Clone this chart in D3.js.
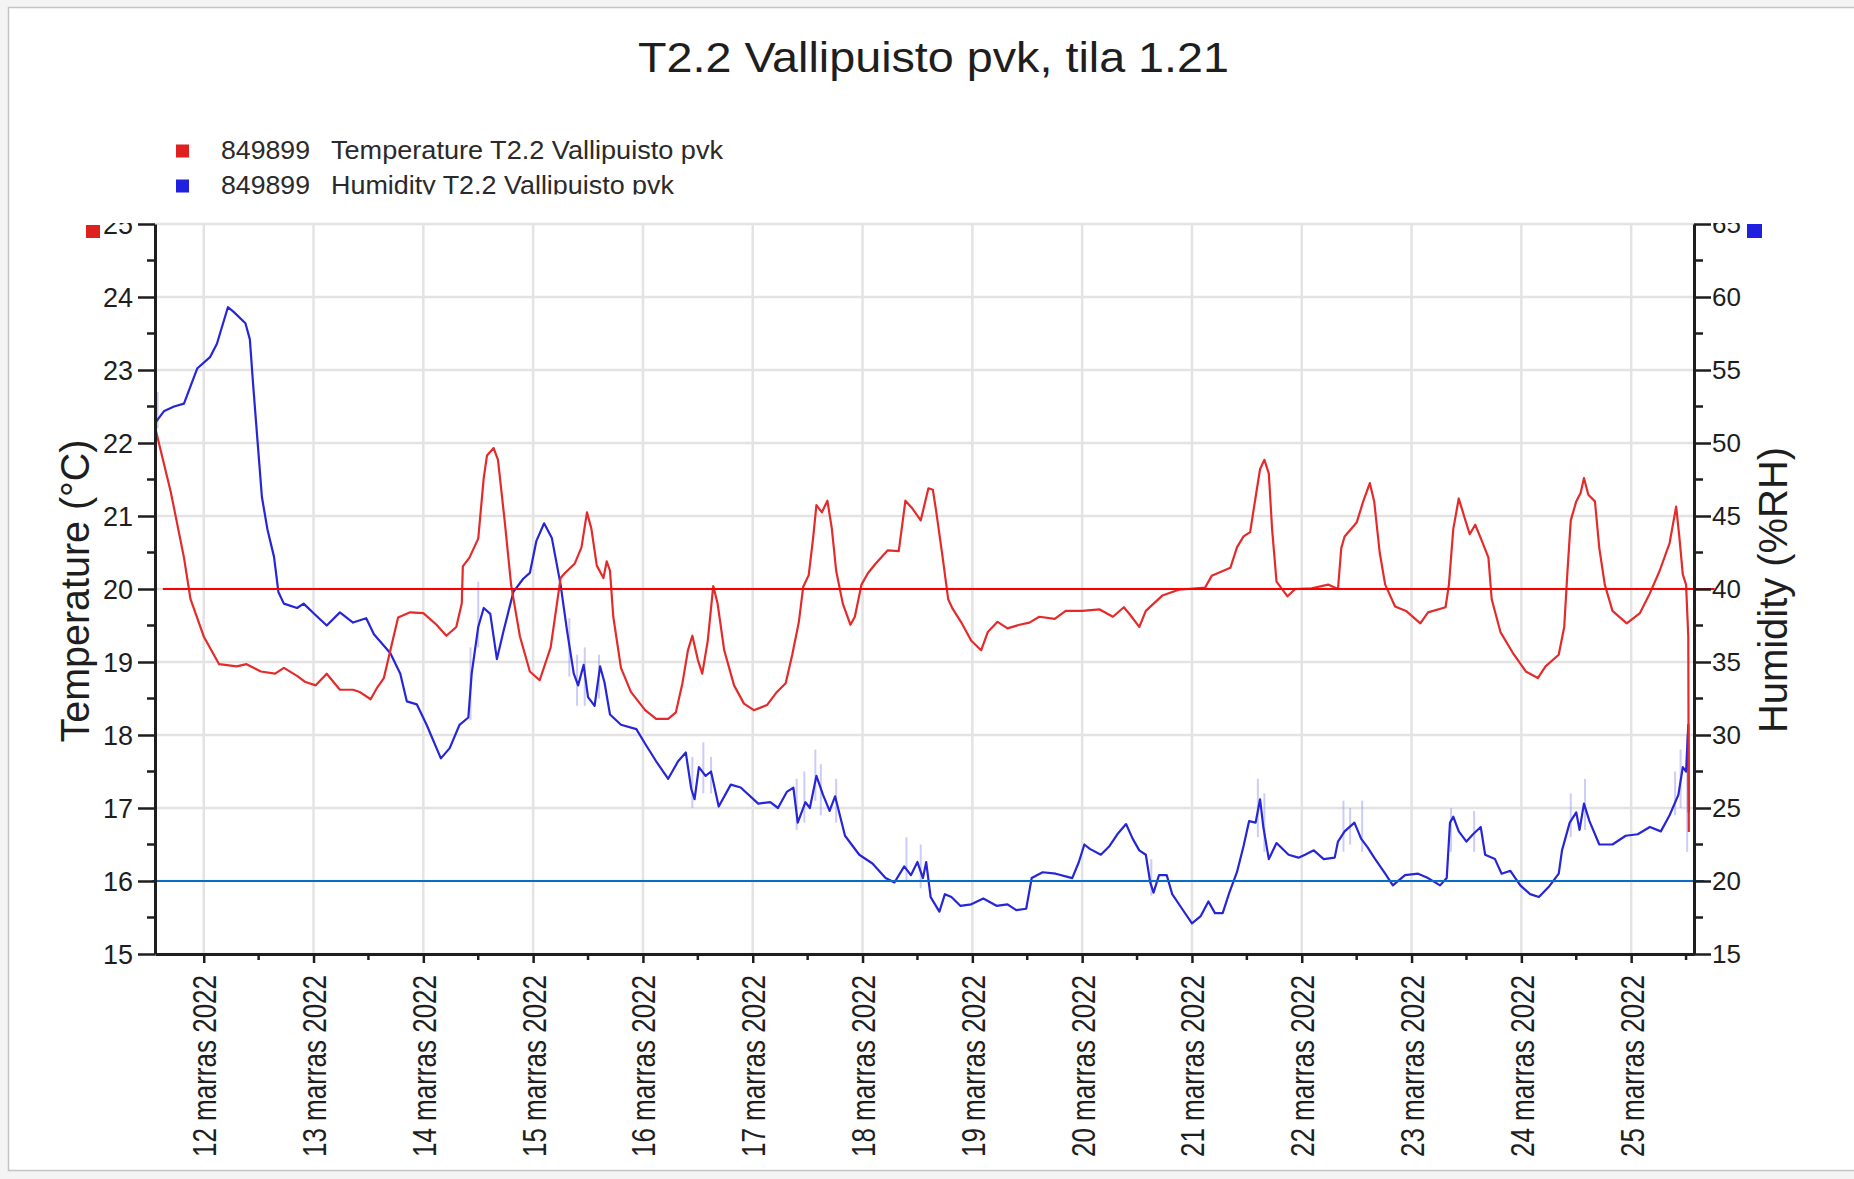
<!DOCTYPE html>
<html>
<head>
<meta charset="utf-8">
<script src="https://cdn.jsdelivr.net/npm/d3@7"></script>
<style>
  html, body { margin: 0; padding: 0; background: #f4f4f4; }
  svg { display: block; font-family: "Liberation Sans", Arial, sans-serif; }
</style>
</head>
<body>
<svg id="chart" width="1854" height="1179"></svg>
<script>
// ---- chart texts ----
const chartTitle = "T2.2 Vallipuisto pvk, tila 1.21";
const sensorId = "849899";
const seriesNames = ["Temperature T2.2 Vallipuisto pvk", "Humidity T2.2 Vallipuisto pvk"];
const axisTitles = ["Temperature (°C)", "Humidity (%RH)"];

// ---- axis ticks ----
const dayTicks = [12, 13, 14, 15, 16, 17, 18, 19, 20, 21, 22, 23, 24, 25];
const dayTickLabels = ["12 marras 2022", "13 marras 2022", "14 marras 2022", "15 marras 2022",
  "16 marras 2022", "17 marras 2022", "18 marras 2022", "19 marras 2022", "20 marras 2022",
  "21 marras 2022", "22 marras 2022", "23 marras 2022", "24 marras 2022", "25 marras 2022"];
const tempTicks = [15, 16, 17, 18, 19, 20, 21, 22, 23, 24, 25];
const humTicks = [15, 20, 25, 30, 35, 40, 45, 50, 55, 60, 65];
const timeRange = [11.556, 25.572];   // visible span, day of month (March 2022)

// ---- target levels ----
const tempTarget = { value: 20, from: 11.628, to: 25.76 };
const humTarget = { value: 20, from: 11.525, to: 25.665 };

// ---- temperature series (day of month, °C) ----
const tempDay = [11.56, 11.70, 11.82, 11.88, 12.00, 12.14, 12.30, 12.39, 12.52, 12.65, 12.73, 12.85,
  12.92, 13.02, 13.12, 13.24, 13.36, 13.42, 13.52, 13.58, 13.64, 13.70, 13.77, 13.88, 14.00, 14.12,
  14.21, 14.30, 14.35, 14.36, 14.42, 14.50, 14.55, 14.58, 14.64, 14.68, 14.74, 14.80, 14.88, 14.97,
  15.06, 15.16, 15.25, 15.29, 15.38, 15.44, 15.49, 15.53, 15.58, 15.64, 15.67, 15.70, 15.73, 15.80,
  15.89, 16.02, 16.12, 16.23, 16.30, 16.36, 16.41, 16.45, 16.50, 16.54, 16.59, 16.64, 16.68, 16.74,
  16.83, 16.92, 17.01, 17.13, 17.22, 17.30, 17.36, 17.42, 17.46, 17.51, 17.55, 17.58, 17.63, 17.68,
  17.72, 17.76, 17.82, 17.89, 17.93, 17.99, 18.05, 18.12, 18.23, 18.33, 18.39, 18.45, 18.53, 18.60,
  18.64, 18.67, 18.73, 18.78, 18.82, 18.90, 18.99, 19.08, 19.14, 19.23, 19.32, 19.43, 19.52, 19.61,
  19.75, 19.85, 20.00, 20.16, 20.28, 20.38, 20.44, 20.52, 20.58, 20.73, 20.88, 21.12, 21.18, 21.35,
  21.41, 21.47, 21.53, 21.58, 21.62, 21.66, 21.70, 21.73, 21.77, 21.87, 21.94, 22.09, 22.24, 22.33,
  22.36, 22.39, 22.50, 22.56, 22.62, 22.66, 22.71, 22.76, 22.85, 22.95, 23.08, 23.15, 23.31, 23.34,
  23.38, 23.43, 23.49, 23.53, 23.58, 23.64, 23.70, 23.73, 23.81, 23.92, 24.04, 24.15, 24.22, 24.34,
  24.39, 24.42, 24.45, 24.50, 24.54, 24.57, 24.61, 24.67, 24.71, 24.76, 24.83, 24.96, 25.08, 25.17,
  25.26, 25.35, 25.41, 25.44, 25.47, 25.50, 25.52, 25.525];
const tempValue = [22.20, 21.33, 20.43, 19.86, 19.35, 18.97, 18.94, 18.97, 18.87, 18.84, 18.92, 18.81,
  18.73, 18.68, 18.84, 18.62, 18.62, 18.59, 18.49, 18.65, 18.78, 19.16, 19.61, 19.68, 19.67, 19.51,
  19.36, 19.48, 19.80, 20.31, 20.43, 20.69, 21.52, 21.83, 21.93, 21.77, 20.94, 20.05, 19.35, 18.87,
  18.75, 19.20, 20.15, 20.22, 20.35, 20.57, 21.05, 20.83, 20.32, 20.15, 20.38, 20.25, 19.62, 18.92,
  18.59, 18.34, 18.22, 18.22, 18.31, 18.71, 19.16, 19.36, 19.03, 18.84, 19.29, 20.04, 19.80, 19.16,
  18.68, 18.43, 18.34, 18.41, 18.59, 18.71, 19.10, 19.55, 20.03, 20.19, 20.70, 21.15, 21.05, 21.21,
  20.83, 20.25, 19.80, 19.51, 19.62, 20.06, 20.22, 20.35, 20.53, 20.52, 21.21, 21.11, 20.94, 21.38,
  21.36, 21.07, 20.43, 19.86, 19.73, 19.54, 19.29, 19.16, 19.41, 19.55, 19.46, 19.51, 19.54, 19.62,
  19.59, 19.70, 19.70, 19.72, 19.62, 19.75, 19.64, 19.48, 19.70, 19.91, 19.99, 20.02, 20.18, 20.29,
  20.57, 20.72, 20.78, 21.26, 21.64, 21.77, 21.58, 20.82, 20.10, 19.90, 20.00, 20.01, 20.06, 20.00,
  20.56, 20.72, 20.91, 21.20, 21.45, 21.20, 20.50, 20.06, 19.76, 19.70, 19.53, 19.68, 19.75, 20.06,
  20.82, 21.24, 20.94, 20.75, 20.88, 20.66, 20.43, 19.86, 19.41, 19.13, 18.87, 18.78, 18.94, 19.10,
  19.48, 20.25, 20.94, 21.20, 21.32, 21.52, 21.29, 21.20, 20.56, 20.06, 19.70, 19.53, 19.67, 19.94,
  20.25, 20.63, 21.13, 20.69, 20.20, 20.06, 19.35, 16.67];

// ---- humidity series (day of month, %RH) ----
const humDay = [11.56, 11.64, 11.73, 11.82, 11.94, 12.06, 12.12, 12.22, 12.27, 12.38, 12.42, 12.45,
  12.48, 12.53, 12.58, 12.64, 12.68, 12.73, 12.85, 12.91, 13.02, 13.12, 13.24, 13.36, 13.48, 13.55,
  13.70, 13.79, 13.85, 13.94, 14.03, 14.16, 14.24, 14.33, 14.41, 14.44, 14.50, 14.55, 14.61, 14.67,
  14.73, 14.82, 14.91, 14.97, 15.03, 15.10, 15.17, 15.25, 15.31, 15.37, 15.41, 15.46, 15.50, 15.56,
  15.61, 15.65, 15.70, 15.80, 15.94, 16.02, 16.12, 16.23, 16.32, 16.39, 16.44, 16.47, 16.51, 16.57,
  16.62, 16.69, 16.80, 16.89, 17.05, 17.16, 17.23, 17.31, 17.37, 17.41, 17.48, 17.52, 17.58, 17.64,
  17.70, 17.75, 17.84, 17.97, 18.09, 18.21, 18.29, 18.38, 18.44, 18.50, 18.55, 18.58, 18.62, 18.70,
  18.75, 18.81, 18.89, 18.99, 19.10, 19.22, 19.32, 19.40, 19.49, 19.54, 19.64, 19.76, 19.91, 19.97,
  20.02, 20.07, 20.17, 20.25, 20.32, 20.40, 20.46, 20.52, 20.58, 20.62, 20.65, 20.70, 20.77, 20.82,
  20.91, 21.00, 21.08, 21.15, 21.21, 21.28, 21.34, 21.41, 21.47, 21.52, 21.58, 21.62, 21.65, 21.70,
  21.77, 21.88, 21.97, 22.03, 22.11, 22.20, 22.30, 22.33, 22.39, 22.48, 22.54, 22.60, 22.66, 22.76,
  22.83, 22.94, 23.06, 23.15, 23.26, 23.32, 23.35, 23.38, 23.43, 23.50, 23.56, 23.63, 23.67, 23.76,
  23.82, 23.90, 23.99, 24.08, 24.16, 24.25, 24.34, 24.37, 24.44, 24.50, 24.53, 24.57, 24.62, 24.71,
  24.83, 24.95, 25.06, 25.17, 25.27, 25.35, 25.43, 25.47, 25.50, 25.52, 25.525];
const humValue = [51.4, 52.2, 52.5, 52.7, 55.1, 55.9, 56.8, 59.3, 59.0, 58.2, 57.1, 54.0,
  51.1, 46.3, 44.1, 42.2, 39.8, 39.0, 38.7, 39.0, 38.2, 37.5, 38.4, 37.7, 38.0, 36.9,
  35.6, 34.2, 32.3, 32.1, 30.7, 28.4, 29.1, 30.7, 31.2, 34.2, 37.4, 38.7, 38.3, 35.2,
  37.1, 39.8, 40.7, 41.1, 43.3, 44.5, 43.5, 40.3, 37.1, 34.2, 33.4, 34.8, 32.6, 32.0,
  34.7, 33.6, 31.4, 30.7, 30.4, 29.4, 28.2, 27.0, 28.2, 28.8, 26.3, 25.6, 27.8, 27.2,
  27.5, 25.1, 26.6, 26.4, 25.3, 25.4, 25.0, 26.1, 26.4, 24.0, 25.4, 25.0, 27.2, 25.9,
  24.8, 25.8, 23.1, 21.8, 21.2, 20.2, 19.9, 21.0, 20.4, 21.3, 20.2, 21.3, 18.9, 17.9,
  19.1, 18.9, 18.3, 18.4, 18.8, 18.3, 18.4, 18.0, 18.1, 20.2, 20.6, 20.5, 20.2, 21.3,
  22.5, 22.2, 21.8, 22.4, 23.2, 23.9, 22.9, 22.1, 21.8, 19.9, 19.2, 20.4, 20.4, 19.1,
  18.1, 17.1, 17.6, 18.6, 17.8, 17.8, 19.2, 20.6, 22.4, 24.1, 24.0, 25.6, 23.7, 21.5,
  22.6, 21.8, 21.6, 21.8, 22.1, 21.5, 21.6, 22.7, 23.4, 24.0, 22.9, 22.3, 21.6, 20.5,
  19.7, 20.4, 20.5, 20.2, 19.7, 20.2, 24.0, 24.4, 23.4, 22.7, 23.2, 23.7, 21.8, 21.5,
  20.5, 20.7, 19.7, 19.1, 18.9, 19.6, 20.5, 22.1, 24.0, 24.7, 23.5, 25.3, 24.1, 22.5,
  22.5, 23.1, 23.2, 23.7, 23.4, 24.5, 25.9, 27.8, 27.5, 30.7, 24.7];

// ---- short-term humidity spread (day, low, high) ----
const humSpreadDay = [11.58, 14.43, 14.50, 15.33, 15.40, 15.47, 15.60, 16.45, 16.55, 16.62, 17.40, 17.47,
  17.57, 17.62, 17.76, 18.40, 18.53, 20.63, 21.60, 21.66, 22.38, 22.44, 22.55, 23.36, 23.57, 24.45,
  24.58, 25.40, 25.45, 25.51];
const humSpreadLow = [51.0, 31.0, 36.0, 34.0, 32.0, 32.0, 32.5, 25.0, 26.0, 26.0, 23.5, 24.0,
  25.5, 24.5, 24.0, 20.0, 19.5, 19.0, 23.0, 22.0, 22.0, 22.5, 22.0, 22.0, 22.0, 23.0,
  23.5, 24.5, 25.0, 22.0];
const humSpreadHigh = [53.5, 36.0, 40.5, 38.0, 35.5, 36.0, 35.5, 28.5, 29.5, 28.5, 27.0, 27.5,
  29.0, 28.0, 27.0, 23.0, 22.5, 21.5, 27.0, 26.0, 25.5, 25.0, 25.5, 25.0, 24.8, 26.0,
  27.0, 27.5, 29.0, 30.0];

// ---- helpers ----
const toDate = d => new Date(2022, 1, 28, 0, Math.round(d * 1440));

const svg = d3.select("#chart");
const W = 1854, H = 1179;
const plot = { left: 155, right: 1694, top: 224, bottom: 954 };

const x = d3.scaleTime().domain(timeRange.map(toDate)).range([plot.left, plot.right]);
const yT = d3.scaleLinear().domain([15, 25]).range([plot.bottom, plot.top]);
const yH = d3.scaleLinear().domain([15, 65]).range([plot.bottom, plot.top]);

const ink = "#1e1e1e";
const redLine = "#e42b2b";
const blueLine = "#2626d8";

// page frame
svg.append("rect").attr("x", 0).attr("y", 0).attr("width", W).attr("height", H).attr("fill", "#f4f4f4");
svg.append("rect").attr("x", 8.5).attr("y", 7.5).attr("width", W + 20).attr("height", 1163)
  .attr("fill", "#ffffff").attr("stroke", "#c4c4c4").attr("stroke-width", 1.5);

const defs = svg.append("defs");
defs.append("clipPath").attr("id", "axisClip").append("rect")
  .attr("x", 0).attr("y", plot.top - 1).attr("width", W).attr("height", H);
defs.append("clipPath").attr("id", "legendClip").append("rect")
  .attr("x", 0).attr("y", 100).attr("width", W).attr("height", 94.5);

// title
svg.append("text").attr("x", 638).attr("y", 71.5)
  .attr("font-size", 42).attr("fill", ink)
  .attr("textLength", 591).attr("lengthAdjust", "spacingAndGlyphs")
  .text(chartTitle);

// legend
const legend = svg.append("g").attr("clip-path", "url(#legendClip)");
const legendRows = [
  { name: seriesNames[0], color: "#e01f1f", y: 158.5, len: 392 },
  { name: seriesNames[1], color: "#2020e0", y: 193.5, len: 343 }
];
legendRows.forEach(r => {
  legend.append("rect").attr("x", 176).attr("y", r.y - 14).attr("width", 13).attr("height", 13).attr("fill", r.color);
  legend.append("text").attr("x", 221).attr("y", r.y).attr("font-size", 25).attr("fill", "#2a2a2a")
    .attr("textLength", 89).attr("lengthAdjust", "spacingAndGlyphs").text(sensorId);
  legend.append("text").attr("x", 331).attr("y", r.y).attr("font-size", 25).attr("fill", "#2a2a2a")
    .attr("textLength", r.len).attr("lengthAdjust", "spacingAndGlyphs").text(r.name);
});

// grid
const grid = svg.append("g").attr("stroke", "#e3e3e3").attr("stroke-width", 2.5);
grid.selectAll("line.v").data(dayTicks).join("line")
  .attr("x1", d => x(toDate(d))).attr("x2", d => x(toDate(d)))
  .attr("y1", plot.top).attr("y2", plot.bottom);
grid.selectAll("line.h").data(tempTicks).join("line")
  .attr("x1", plot.left).attr("x2", plot.right)
  .attr("y1", d => yT(d)).attr("y2", d => yT(d));

// humidity spread spikes
svg.append("g").attr("stroke", "#8f8ff0").attr("stroke-opacity", 0.45).attr("stroke-width", 2)
  .selectAll("line").data(humSpreadDay).join("line")
  .attr("x1", d => x(toDate(d))).attr("x2", d => x(toDate(d)))
  .attr("y1", (d, i) => yH(humSpreadLow[i])).attr("y2", (d, i) => yH(humSpreadHigh[i]));

// series lines
const humPts = humDay.map((d, i) => [toDate(d), humValue[i]]);
const tempPts = tempDay.map((d, i) => [toDate(d), tempValue[i]]);

svg.append("path").datum(humPts)
  .attr("fill", "none").attr("stroke", blueLine).attr("stroke-width", 2.2).attr("stroke-linejoin", "round")
  .attr("d", d3.line().x(p => x(p[0])).y(p => yH(p[1])));
svg.append("path").datum(tempPts)
  .attr("fill", "none").attr("stroke", redLine).attr("stroke-width", 2.2).attr("stroke-linejoin", "round")
  .attr("d", d3.line().x(p => x(p[0])).y(p => yT(p[1])));

// target levels
svg.append("line")
  .attr("x1", x(toDate(tempTarget.from))).attr("x2", x(toDate(tempTarget.to)))
  .attr("y1", yT(tempTarget.value)).attr("y2", yT(tempTarget.value))
  .attr("stroke", "#ff0000").attr("stroke-width", 2.2);
svg.append("line")
  .attr("x1", x(toDate(humTarget.from))).attr("x2", x(toDate(humTarget.to)))
  .attr("y1", yH(humTarget.value)).attr("y2", yH(humTarget.value))
  .attr("stroke", "#0a6cc4").attr("stroke-width", 2.2);

// axes
function styleAxis(g) {
  g.select(".domain").attr("stroke", ink).attr("stroke-width", 3);
  g.selectAll(".tick line").attr("stroke", ink).attr("stroke-width", 2.5);
  g.selectAll(".tick text").attr("fill", ink).attr("font-family", "'Liberation Sans', Arial, sans-serif");
}

const half = arr => arr.slice(0, -1).map((v, i) => (v + arr[i + 1]) / 2);

// left: temperature
const leftWrap = svg.append("g").attr("clip-path", "url(#axisClip)");
const leftAxis = leftWrap.append("g").attr("transform", `translate(${plot.left},0)`)
  .call(d3.axisLeft(yT).tickValues(tempTicks).tickSize(17).tickPadding(5).tickSizeOuter(0));
styleAxis(leftAxis);
leftAxis.selectAll(".tick text").attr("font-size", 27).attr("dy", "0.34em");
leftWrap.append("g").attr("transform", `translate(${plot.left},0)`)
  .selectAll("line").data(half(tempTicks)).join("line")
  .attr("x1", -8).attr("x2", 0).attr("y1", d => yT(d)).attr("y2", d => yT(d))
  .attr("stroke", ink).attr("stroke-width", 2.5);

// right: humidity
const rightWrap = svg.append("g").attr("clip-path", "url(#axisClip)");
const rightAxis = rightWrap.append("g").attr("transform", `translate(${plot.right},0)`)
  .call(d3.axisRight(yH).tickValues(humTicks).tickSize(17).tickPadding(1).tickSizeOuter(0));
styleAxis(rightAxis);
rightAxis.selectAll(".tick text").attr("font-size", 26).attr("dy", "0.34em");
rightWrap.append("g").attr("transform", `translate(${plot.right},0)`)
  .selectAll("line").data(half(humTicks)).join("line")
  .attr("x1", 0).attr("x2", 9).attr("y1", d => yH(d)).attr("y2", d => yH(d))
  .attr("stroke", ink).attr("stroke-width", 2.5);

// bottom: days
const bottomAxis = svg.append("g").attr("transform", `translate(0,${plot.bottom})`)
  .call(d3.axisBottom(x).tickValues(dayTicks.map(toDate)).tickSize(9).tickSizeOuter(0)
    .tickFormat((d, i) => dayTickLabels[i]));
styleAxis(bottomAxis);
bottomAxis.selectAll(".tick text")
  .attr("transform", "rotate(-90)").attr("text-anchor", "end")
  .attr("x", -21).attr("y", 0).attr("dy", "0.36em")
  .attr("font-size", 33).attr("textLength", 182).attr("lengthAdjust", "spacingAndGlyphs");
const noonTicks = dayTicks.map(d => d + 0.5).filter(d => d <= timeRange[1]);
bottomAxis.append("g").selectAll("line").data(noonTicks).join("line")
  .attr("x1", d => x(toDate(d))).attr("x2", d => x(toDate(d))).attr("y1", 0).attr("y2", 6)
  .attr("stroke", ink).attr("stroke-width", 2.5);

// series markers at axis tops
svg.append("rect").attr("x", 86).attr("y", 225).attr("width", 14).attr("height", 13).attr("fill", "#e01f1f");
svg.append("rect").attr("x", 1747).attr("y", 224).attr("width", 15).attr("height", 14).attr("fill", "#2020e0");

// axis titles
svg.append("text").attr("transform", "translate(89,591) rotate(-90)")
  .attr("text-anchor", "middle").attr("font-size", 40).attr("fill", ink)
  .attr("textLength", 303).attr("lengthAdjust", "spacingAndGlyphs").text(axisTitles[0]);
svg.append("text").attr("transform", "translate(1787,590) rotate(-90)")
  .attr("text-anchor", "middle").attr("font-size", 40).attr("fill", ink)
  .attr("textLength", 286).attr("lengthAdjust", "spacingAndGlyphs").text(axisTitles[1]);
</script>
</body>
</html>
